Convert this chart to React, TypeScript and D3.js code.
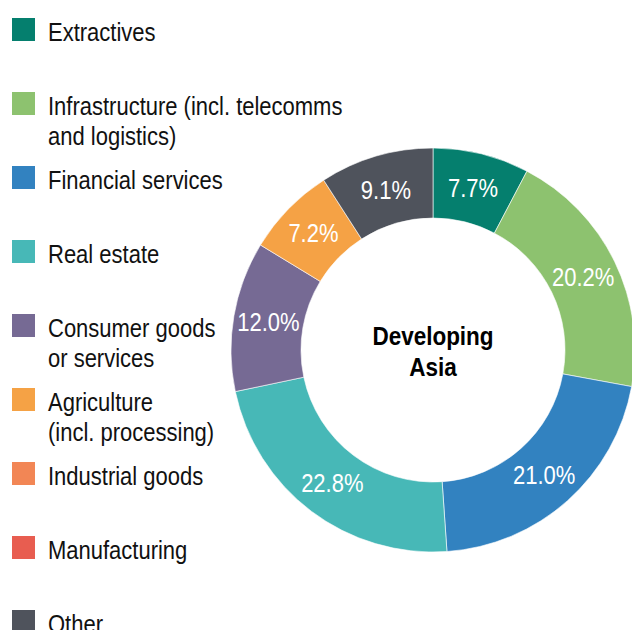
import React from "react";
import * as d3 from "d3";

const categories = [
  "Extractives",
  "Infrastructure (incl. telecomms|and logistics)",
  "Financial services",
  "Real estate",
  "Consumer goods|or services",
  "Agriculture|(incl. processing)",
  "Industrial goods",
  "Manufacturing",
  "Other",
];
const values = [7.7, 20.2, 21.0, 22.8, 12.0, 7.2, 0, 0, 9.1];
const colors = [
  "#057f6e",
  "#8dc26f",
  "#3282c0",
  "#47b8b7",
  "#766a94",
  "#f5a245",
  "#f28655",
  "#e85d50",
  "#4f535c",
];
const centerLabel = ["Developing", "Asia"];

const W = 632;
const H = 630;
const FONT = "'Liberation Sans', Arial, sans-serif";
const SX = 0.88;

function CText(props: {
  x: number;
  y: number;
  children: React.ReactNode;
  anchor?: "start" | "middle" | "end";
  fill?: string;
  bold?: boolean;
  size?: number;
  dy?: string;
  sx?: number;
}) {
  const sx = props.sx ?? SX;
  return (
    <text
      transform={`translate(${props.x},${props.y}) scale(${sx},1)`}
      dy={props.dy}
      textAnchor={props.anchor ?? "start"}
      fill={props.fill ?? "#111"}
      fontFamily={FONT}
      fontWeight={props.bold ? "bold" : "normal"}
      fontSize={props.size ?? 25}
    >
      {props.children}
    </text>
  );
}

export default function App() {
  const cx = 433;
  const cy = 350;
  const outerR = 202;
  const innerR = 132;

  const pie = d3
    .pie<number>()
    .sort(null)
    .value((d) => d);
  const arcs = pie(values);
  const arcGen = d3
    .arc<d3.PieArcDatum<number>>()
    .innerRadius(innerR)
    .outerRadius(outerR);

  const legendY = d3
    .scaleLinear()
    .domain([0, categories.length - 1])
    .range([18, 18 + 74 * (categories.length - 1)]);

  return (
    <div style={{ position: "fixed", left: 0, top: 0, width: W, height: H, background: "#fff" }}>
      <svg width={W} height={H} style={{ display: "block" }}>
        <rect width={W} height={H} fill="#fff" />
        <g transform={`translate(${cx},${cy})`}>
          {arcs.map((a, i) =>
            a.value > 0 ? (
              <path key={i} d={arcGen(a) || ""} fill={colors[i]} stroke="#fff" strokeWidth={0.6} />
            ) : null
          )}
          {arcs.map((a, i) => {
            if (a.value <= 0) return null;
            const [x, y] = arcGen.centroid(a);
            return (
              <CText key={"t" + i} x={x} y={y} dy="0.36em" anchor="middle" fill="#fff">
                {a.value.toFixed(1) + "%"}
              </CText>
            );
          })}
          {centerLabel.map((t, i) => (
            <CText key={"c" + i} x={0} y={-5 + i * 31} anchor="middle" fill="#000" bold sx={0.9}>
              {t}
            </CText>
          ))}
        </g>
        <g>
          {categories.map((c, i) => {
            const y0 = legendY(i);
            const lines = c.split("|");
            return (
              <g key={"l" + i}>
                <rect x={12} y={y0} width={23} height={23} fill={colors[i]} />
                {lines.map((ln, j) => (
                  <CText key={j} x={48} y={y0 + 23 + j * 30}>
                    {ln}
                  </CText>
                ))}
              </g>
            );
          })}
        </g>
      </svg>
    </div>
  );
}
